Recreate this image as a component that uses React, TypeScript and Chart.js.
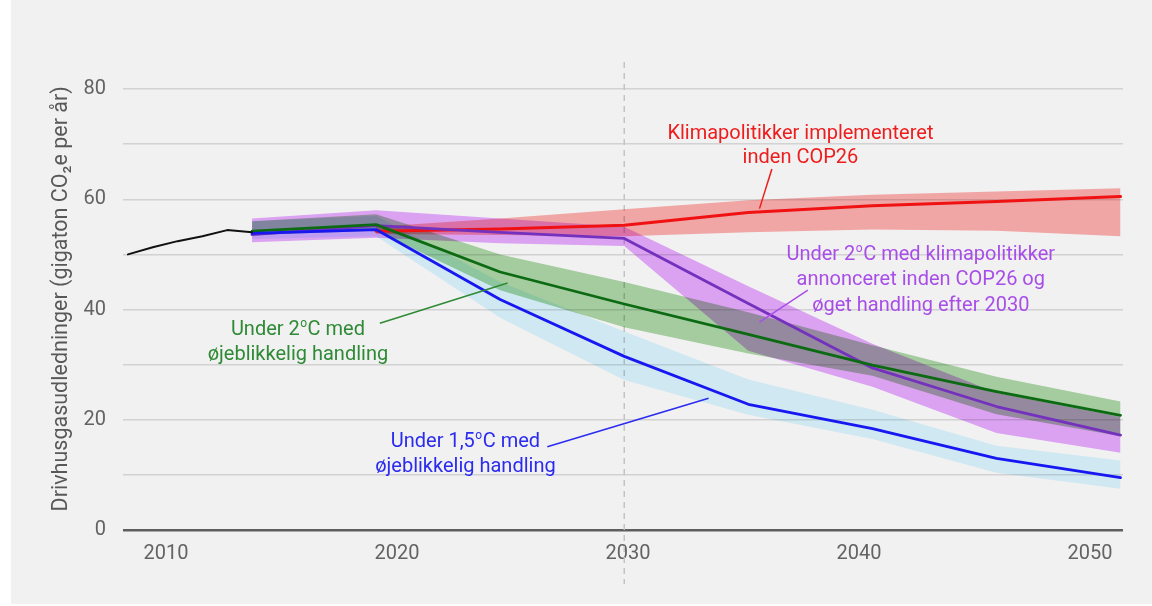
import React, { useEffect, useRef } from 'react';
import { Chart, registerables } from 'chart.js';

Chart.register(...registerables);

// ---------- data ----------
const HIST_YEARS = [2010, 2011, 2012, 2013, 2014, 2015];
const HIST_VALUES = [50.0, 51.3, 52.4, 53.3, 54.4, 54.0];

const SCEN_YEARS = [2015, 2020, 2025, 2030, 2035, 2040, 2045, 2050];
const RED_YEARS = [2020, 2025, 2030, 2035, 2040, 2045, 2050];

const RED_LINE = [54.2, 54.6, 55.3, 57.6, 58.8, 59.6, 60.5];
const RED_LOW = [53.7, 53.5, 53.3, 54.0, 54.5, 54.3, 53.3];
const RED_HIGH = [55.0, 56.5, 58.2, 59.8, 60.8, 61.4, 62.0];

const BLUE_LINE = [53.8, 54.5, 41.8, 31.5, 22.8, 18.4, 13.0, 9.5];
const BLUE_LOW = [52.8, 53.3, 38.5, 27.2, 20.9, 16.5, 10.4, 7.5];
const BLUE_HIGH = [56.0, 57.0, 45.0, 36.0, 27.3, 21.8, 15.3, 12.6];

const GREEN_LINE = [54.2, 55.4, 46.8, 41.0, 35.5, 29.9, 25.1, 20.8];
const GREEN_LOW = [53.5, 54.3, 43.5, 36.8, 32.0, 28.0, 21.0, 17.0];
const GREEN_HIGH = [56.0, 57.3, 50.0, 45.0, 39.5, 33.5, 27.8, 23.3];

const PURPLE_LINE = [53.6, 55.2, 54.0, 52.9, 41.1, 29.4, 22.4, 17.2];
const PURPLE_LOW = [52.2, 53.0, 52.0, 51.5, 32.5, 26.0, 17.6, 14.0];
const PURPLE_HIGH = [56.5, 58.0, 56.5, 55.0, 44.2, 33.8, 24.9, 20.5];

const X_TICKS = [2010, 2020, 2030, 2040, 2050];
const Y_TICKS = [0, 20, 40, 60, 80];
const Y_GRID = [0, 10, 20, 30, 40, 50, 60, 70, 80];
const MARKER_YEAR = 2030;

const Y_TITLE = 'Drivhusgasudledninger (gigaton CO₂e per år)';

type Note = {
  lines: string[];
  x: number; // data year (text centre)
  y: number; // data value (first baseline)
  lh: number;
  color: string;
  from: [number, number];
  to: [number, number];
};

const NOTES: Note[] = [
  {
    lines: ['Klimapolitikker implementeret', 'inden COP26'],
    x: 2037.1, y: 70.9, lh: 24, color: '#ee1d1d',
    from: [2035.95, 65.5], to: [2035.45, 58.3],
  },
  {
    lines: ['Under 2ºC med klimapolitikker', 'annonceret inden COP26 og', 'øget handling efter 2030'],
    x: 2041.95, y: 49.0, lh: 25.5, color: '#a84ee8',
    from: [2037.4, 43.5], to: [2035.45, 37.7],
  },
  {
    lines: ['Under 2ºC med', 'øjeblikkelig handling'],
    x: 2016.85, y: 35.3, lh: 25, color: '#2f8a35',
    from: [2020.15, 37.5], to: [2025.3, 44.8],
  },
  {
    lines: ['Under 1,5ºC med', 'øjeblikkelig handling'],
    x: 2023.6, y: 15.1, lh: 25, color: '#2b2bf0',
    from: [2026.9, 15.1], to: [2033.4, 23.9],
  },
];

const FONT = 'Roboto, "Noto Sans", sans-serif';

function pts(xs: number[], ys: number[]) {
  return xs.map((x, i) => ({ x, y: ys[i] }));
}

function drawRich(ctx: CanvasRenderingContext2D, text: string, cx: number, base: number, color: string) {
  const parts: { t: string; sup: boolean }[] = [];
  const segs = text.split('º');
  segs.forEach((s, i) => {
    if (i > 0) parts.push({ t: 'o', sup: true });
    if (s) parts.push({ t: s, sup: false });
  });
  const normal = `20px ${FONT}`;
  const small = `12px ${FONT}`;
  let total = 0;
  for (const p of parts) {
    ctx.font = p.sup ? small : normal;
    total += ctx.measureText(p.t).width + (p.sup ? 1 : 0);
  }
  let x = cx - total / 2;
  ctx.fillStyle = color;
  ctx.textAlign = 'left';
  ctx.textBaseline = 'alphabetic';
  for (const p of parts) {
    ctx.font = p.sup ? small : normal;
    ctx.fillText(p.t, x + (p.sup ? 0.5 : 0), p.sup ? base - 8 : base);
    x += ctx.measureText(p.t).width + (p.sup ? 1 : 0);
  }
}

export default function App() {
  const ref = useRef<HTMLCanvasElement>(null);

  useEffect(() => {
    document.body.style.margin = '0';
    const canvas = ref.current!;

    const line = (label: string, xs: number[], ys: number[], color: string, width: number) => ({
      label, data: pts(xs, ys), borderColor: color, borderWidth: width,
      pointRadius: 0, fill: false, tension: 0, borderJoinStyle: 'round', isBand: false,
    });
    const band = (label: string, xs: number[], lo: number[], hi: number[], color: string) => [
      { label: label + ' høj', data: pts(xs, hi), backgroundColor: color, borderWidth: 0, borderColor: 'transparent', pointRadius: 0, fill: '+1', tension: 0, isBand: true },
      { label: label + ' lav', data: pts(xs, lo), backgroundColor: color, borderWidth: 0, borderColor: 'transparent', pointRadius: 0, fill: false, tension: 0, isBand: true },
    ];

    const datasets: any[] = [
      line('Historisk', HIST_YEARS, HIST_VALUES, '#111111', 2),
      line('Under 1,5ºC', SCEN_YEARS, BLUE_LINE, '#1717f2', 2.8),
      line('Under 2ºC', SCEN_YEARS, GREEN_LINE, '#0c6a12', 2.8),
      line('Under 2ºC efter 2030', SCEN_YEARS, PURPLE_LINE, '#7431bd', 2.8),
      line('Klimapolitikker', RED_YEARS, RED_LINE, '#f01212', 3),
      ...band('Under 1,5ºC', SCEN_YEARS, BLUE_LOW, BLUE_HIGH, 'rgb(220,246,255)'),
      ...band('Under 2ºC', SCEN_YEARS, GREEN_LOW, GREEN_HIGH, 'rgb(174,216,168)'),
      ...band('Under 2ºC efter 2030', SCEN_YEARS, PURPLE_LOW, PURPLE_HIGH, 'rgb(232,172,255)'),
      ...band('Klimapolitikker', RED_YEARS, RED_LOW, RED_HIGH, 'rgb(255,176,176)'),
    ];

    const bgPlugin = {
      id: 'bg',
      beforeDraw(chart: any) {
        const c = chart.ctx;
        c.save();
        c.fillStyle = '#ffffff';
        c.fillRect(0, 0, chart.width, chart.height);
        c.fillStyle = '#f1f1f1';
        c.fillRect(11, 0, chart.width - 11, 604);
        c.restore();
      },
    };

    const blendPlugin = {
      id: 'blend',
      beforeDatasetsDraw(chart: any) {
        const c = chart.ctx;
        const xs = chart.scales.x;
        const px = xs.getPixelForValue(MARKER_YEAR);
        c.save();
        c.strokeStyle = '#c4c4c4';
        c.lineWidth = 1.5;
        c.setLineDash([6, 5]);
        c.beginPath();
        c.moveTo(px, 62);
        c.lineTo(px, 584);
        c.stroke();
        c.restore();
        c.save();
        c.globalCompositeOperation = 'multiply';
      },
      beforeDatasetDraw(chart: any, args: any) {
        if (!chart.data.datasets[args.index].isBand) chart.ctx.globalCompositeOperation = 'source-over';
      },
      afterDatasetDraw(chart: any) {
        chart.ctx.globalCompositeOperation = 'multiply';
      },
      afterDatasetsDraw(chart: any) {
        chart.ctx.restore();
      },
    };

    const notesPlugin = {
      id: 'notes',
      afterDraw(chart: any) {
        const c = chart.ctx;
        const xs = chart.scales.x;
        const ys = chart.scales.y;
        c.save();
        for (const n of NOTES) {
          c.strokeStyle = n.color;
          c.lineWidth = 1.5;
          c.beginPath();
          c.moveTo(xs.getPixelForValue(n.from[0]), ys.getPixelForValue(n.from[1]));
          c.lineTo(xs.getPixelForValue(n.to[0]), ys.getPixelForValue(n.to[1]));
          c.stroke();
          const cx = xs.getPixelForValue(n.x);
          const b0 = ys.getPixelForValue(n.y);
          n.lines.forEach((t, i) => drawRich(c, t, cx, b0 + i * n.lh, n.color));
        }
        c.restore();
      },
    };

    const chart = new Chart(canvas, {
      type: 'line',
      data: { datasets },
      plugins: [bgPlugin, blendPlugin, notesPlugin],
      options: {
        animation: false,
        responsive: false,
        devicePixelRatio: 1,
        layout: { padding: { left: 0, top: 89, right: 29, bottom: 0 } },
        plugins: { legend: { display: false }, tooltip: { enabled: false } },
        elements: { line: { borderCapStyle: 'round' } },
        scales: {
          x: { type: 'linear', min: 2009.8, max: 2050.1, display: false },
          xl: {
            type: 'linear', position: 'bottom', min: 2008.14, max: 2051.43,
            afterBuildTicks: (s: any) => { s.ticks = X_TICKS.map((v) => ({ value: v })); },
            ticks: {
              callback: (v: any) => String(v), color: '#636363',
              font: { family: FONT, size: 20 }, padding: 12, maxRotation: 0, autoSkip: false,
            },
            grid: { display: false, drawTicks: false },
            border: { display: false },
            afterFit: (s: any) => { s.height = 76; },
          },
          y: {
            type: 'linear', min: 0, max: 80,
            afterBuildTicks: (s: any) => { s.ticks = Y_GRID.map((v) => ({ value: v })); },
            ticks: {
              callback: (v: any) => (Y_TICKS.includes(v) ? String(v) : ''),
              color: '#636363', font: { family: FONT, size: 20 }, padding: 17, autoSkip: false,
            },
            grid: {
              color: (ctx: any) => (ctx.tick && ctx.tick.value === 0 ? '#5e5e5e' : '#d2d2d2'),
              lineWidth: (ctx: any) => (ctx.tick && ctx.tick.value === 0 ? 2.5 : 1.5),
              drawTicks: false,
            },
            border: { display: false },
            title: {
              display: true, text: '    ' + Y_TITLE, color: '#585858',
              font: { family: FONT, size: 21.5 }, padding: { top: 49, bottom: 0 },
            },
            afterFit: (s: any) => { s.width = 123; },
          },
        },
      } as any,
    });

    return () => chart.destroy();
  }, []);

  return (
    <div style={{ width: 1152, height: 606 }}>
      <canvas ref={ref} width={1152} height={606} style={{ display: 'block' }} />
    </div>
  );
}
